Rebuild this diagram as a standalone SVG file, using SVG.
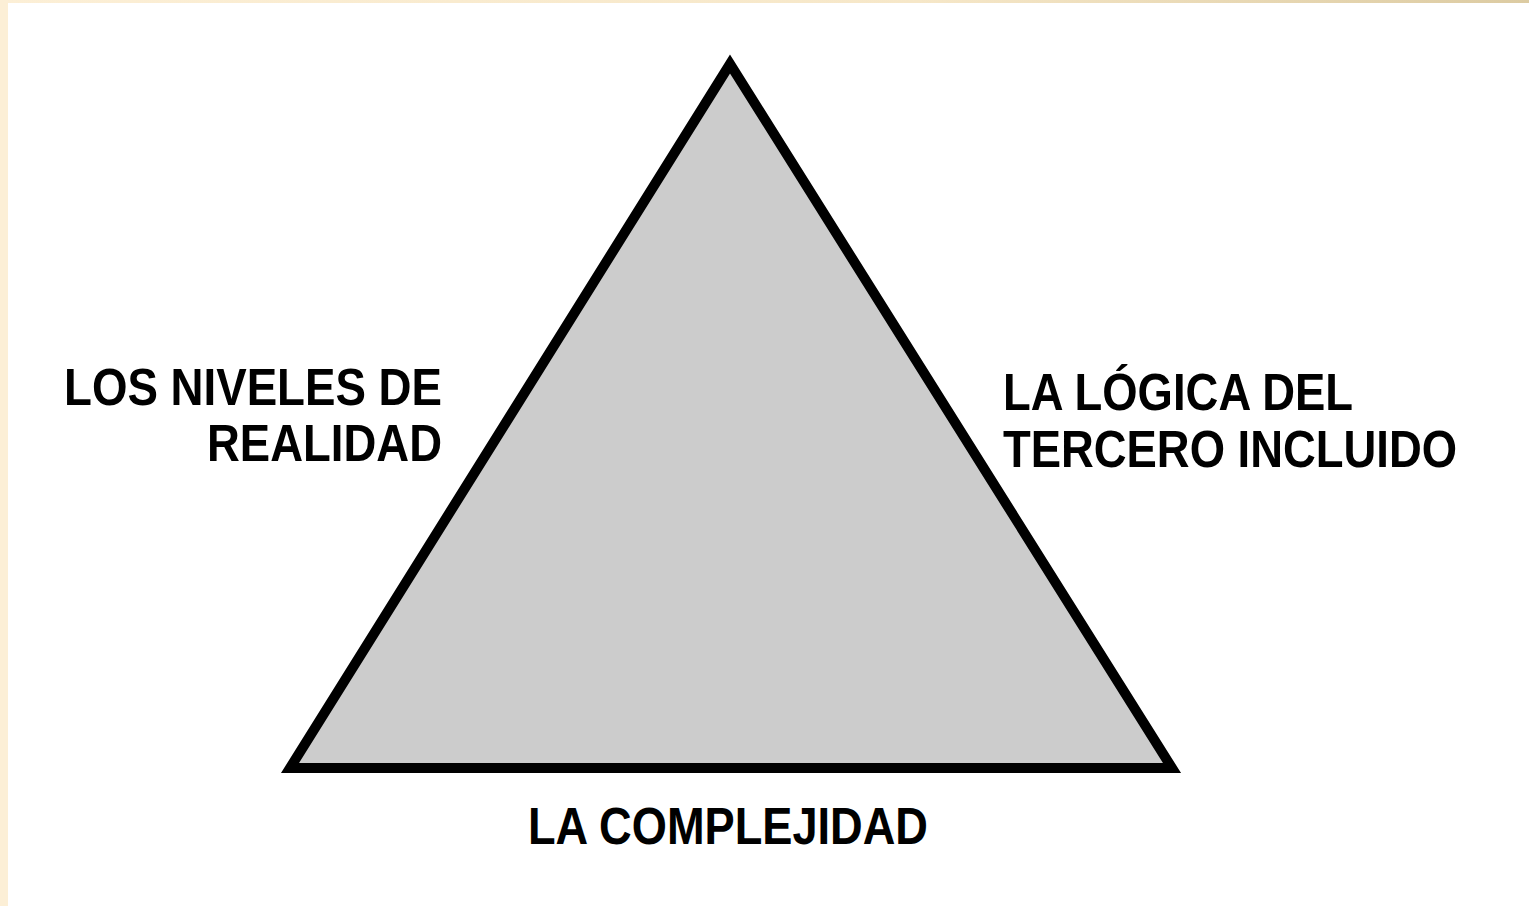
<svg xmlns="http://www.w3.org/2000/svg" width="1529" height="906" viewBox="0 0 1529 906">
<style>
.lbl{font-family:"Liberation Sans",Arial,sans-serif;font-weight:bold;font-size:51px;fill:#000}
</style>
<defs>
<linearGradient id="topbar" x1="0" y1="0" x2="1" y2="0">
<stop offset="0" stop-color="#FCEFD6"/>
<stop offset="0.6" stop-color="#F6E7C8"/>
<stop offset="1" stop-color="#DCCBA2"/>
</linearGradient>
</defs>
<rect x="0" y="0" width="1529" height="906" fill="#FFFFFF"/>
<rect x="0" y="0" width="1529" height="3" fill="url(#topbar)"/>
<rect x="0" y="0" width="8" height="906" fill="#FCEFD6"/>
<g id="triangle">
<path d="M730,64 L1172,768 L290,768 Z" fill="#CCCCCC" stroke="#000000" stroke-width="10" stroke-linejoin="miter"/>
</g>
<g id="connectors"></g>
<g id="label-niveles">
<text class="lbl" x="64" y="405" textLength="378" lengthAdjust="spacingAndGlyphs">LOS NIVELES DE</text>
<text class="lbl" x="207" y="461" textLength="235" lengthAdjust="spacingAndGlyphs">REALIDAD</text>
</g>
<g id="label-logica">
<text class="lbl" x="1003" y="410" textLength="350" lengthAdjust="spacingAndGlyphs">LA LÓGICA DEL</text>
<text class="lbl" x="1003" y="467" textLength="454" lengthAdjust="spacingAndGlyphs">TERCERO INCLUIDO</text>
</g>
<g id="label-complejidad">
<text class="lbl" x="528" y="844" textLength="400" lengthAdjust="spacingAndGlyphs">LA COMPLEJIDAD</text>
</g>
</svg>
